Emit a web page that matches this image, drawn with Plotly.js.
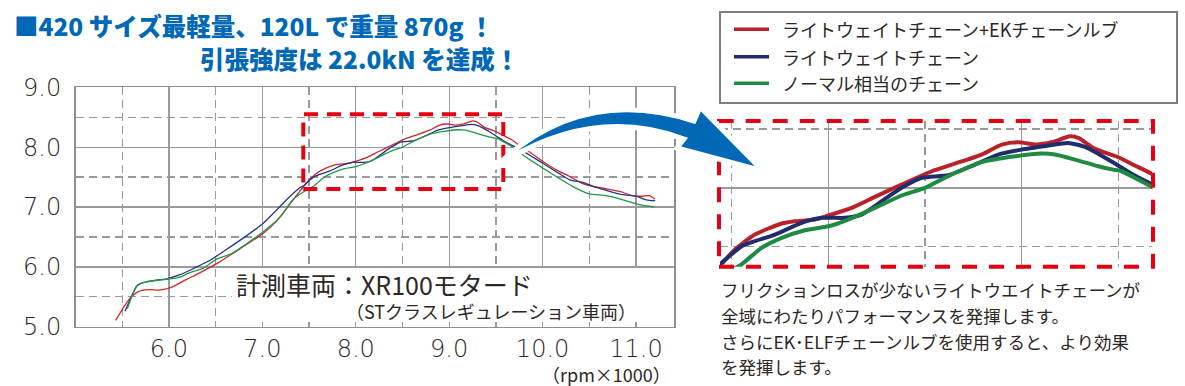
<!DOCTYPE html>
<html><head><meta charset="utf-8">
<script src="https://cdn.plot.ly/plotly-3.0.1.min.js"></script>
<style>html,body{margin:0;padding:0;background:#fff;}#chart{width:1185px;height:386px;}</style>
</head><body><div id="chart"></div>
<script>
// ---------- data ----------
const seriesNames = ['ライトウェイトチェーン+EKチェーンルブ', 'ライトウェイトチェーン', 'ノーマル相当のチェーン'];

const redX = [5.43, 5.53, 5.58, 5.655, 5.71, 5.80, 5.885, 5.975, 6.03, 6.19, 6.33, 6.53, 6.69, 7.0, 7.15, 7.29, 7.40, 7.445, 7.517, 7.62, 7.759, 7.827, 7.931, 8.0, 8.121, 8.241, 8.379, 8.535, 8.655, 8.793, 8.897, 8.983, 9.078, 9.155, 9.25, 9.293, 9.38, 9.50, 9.586, 9.673, 9.75, 9.853, 10.003, 10.146, 10.289, 10.43, 10.54, 10.68, 10.824, 10.966, 11.07, 11.145, 11.2];
const redY = [5.105, 5.36, 5.47, 5.57, 5.605, 5.62, 5.61, 5.63, 5.66, 5.79, 5.90, 6.07, 6.23, 6.55, 6.76, 7.04, 7.26, 7.348, 7.476, 7.603, 7.697, 7.716, 7.731, 7.765, 7.83, 7.923, 8.028, 8.141, 8.206, 8.283, 8.368, 8.387, 8.368, 8.387, 8.438, 8.425, 8.331, 8.26, 8.19, 8.12, 8.03, 7.927, 7.76, 7.62, 7.51, 7.39, 7.345, 7.305, 7.26, 7.19, 7.18, 7.19, 7.13];

const blueX = [5.53, 5.60, 5.655, 5.71, 5.83, 5.975, 6.12, 6.26, 6.44, 6.615, 6.795, 7.01, 7.26, 7.40, 7.445, 7.552, 7.724, 7.862, 7.966, 8.086, 8.172, 8.276, 8.379, 8.483, 8.62, 8.759, 8.879, 9.0, 9.138, 9.241, 9.328, 9.448, 9.569, 9.673, 9.826, 10.003, 10.146, 10.289, 10.43, 10.54, 10.68, 10.86, 11.0, 11.11, 11.205];
const blueY = [5.26, 5.51, 5.68, 5.73, 5.77, 5.80, 5.87, 5.97, 6.11, 6.29, 6.48, 6.73, 7.12, 7.32, 7.36, 7.504, 7.603, 7.703, 7.745, 7.745, 7.773, 7.886, 8.0, 8.085, 8.107, 8.198, 8.283, 8.325, 8.359, 8.382, 8.348, 8.24, 8.12, 8.03, 7.90, 7.73, 7.59, 7.455, 7.41, 7.345, 7.28, 7.205, 7.18, 7.12, 7.105];

const greenX = [5.555, 5.62, 5.67, 5.76, 5.90, 6.01, 6.12, 6.22, 6.37, 6.51, 6.67, 6.97, 7.19, 7.33, 7.47, 7.543, 7.655, 7.759, 7.879, 8.0, 8.103, 8.241, 8.379, 8.50, 8.62, 8.793, 8.966, 9.104, 9.172, 9.276, 9.397, 9.474, 9.517, 9.603, 9.673, 9.79, 10.003, 10.146, 10.32, 10.50, 10.68, 10.86, 11.04, 11.2];
const greenY = [5.30, 5.57, 5.705, 5.75, 5.78, 5.80, 5.83, 5.90, 5.98, 6.13, 6.22, 6.54, 6.83, 7.13, 7.28, 7.34, 7.49, 7.575, 7.64, 7.674, 7.731, 7.83, 7.935, 8.0, 8.099, 8.218, 8.268, 8.291, 8.283, 8.24, 8.184, 8.155, 8.141, 8.07, 8.008, 7.87, 7.65, 7.51, 7.345, 7.22, 7.19, 7.12, 7.04, 7.0];

const xTickVals = [6, 7, 8, 9, 10, 11];
const xTickText = ['6.0', '7.0', '8.0', '9.0', '10.0', '11.0'];
const yTickVals = [5, 6, 7, 8, 9];
const yTickText = ['5.0', '6.0', '7.0', '8.0', '9.0'];

const titleLine1 = '■420 サイズ最軽量、120L で重量 870g ！';
const titleLine2 = '引張強度は 22.0kN を達成！';
const vehicleLine1 = '計測車両：XR100モタード';
const vehicleLine2 = '（STクラスレギュレーション車両）';
const unitLabel = '（rpm×1000）';
const noteLines = [
  'フリクションロスが少ないライトウエイトチェーンが',
  '全域にわたりパフォーマンスを発揮します。',
  'さらにEK･ELFチェーンルブを使用すると、より効果',
  'を発揮します。'
];

// ---------- layout helpers ----------
const W = 1185, H = 386;
const fx = p => p / W;
const fy = p => 1 - p / H;
const toPaper = d => d.replace(/(-?\d+\.?\d*),(-?\d+\.?\d*)/g, (m, a, b) => fx(+a).toFixed(5) + ',' + fy(+b).toFixed(5));

const JP = '"Noto Sans CJK JP", "Noto Sans", sans-serif';
const NUM = '"DejaVu Sans", "Noto Sans", sans-serif';
const TXT = '#2e2725';

const mainColors = ['#d2262e', '#243583', '#22964a'];
const insetColors = ['#b8232b', '#1f2d6c', '#1f8a41'];
const xs = [redX, blueX, greenX], ys = [redY, blueY, greenY];

const traces = [];
for (let i = 0; i < 3; i++) {
  traces.push({x: xs[i], y: ys[i], xaxis: 'x', yaxis: 'y', mode: 'lines', name: seriesNames[i],
    line: {color: mainColors[i], width: 1.3, shape: 'spline', smoothing: 0.6}, hoverinfo: 'skip', showlegend: false});
}
for (let i = 0; i < 3; i++) {
  traces.push({x: xs[i], y: ys[i], xaxis: 'x2', yaxis: 'y2', mode: 'lines', name: seriesNames[i],
    line: {color: insetColors[i], width: 4, shape: 'spline', smoothing: 0.6}, hoverinfo: 'skip', showlegend: false});
}

const gridGray = '#9a9a9a';
const layout = {
  width: W, height: H, autosize: false,
  margin: {l: 0, r: 0, t: 0, b: 0},
  paper_bgcolor: '#ffffff', plot_bgcolor: 'rgba(0,0,0,0)',
  showlegend: false,
  xaxis: {
    domain: [fx(75.5), fx(674.3)], range: [5.0, 11.41], anchor: 'y',
    tickmode: 'array', tickvals: xTickVals, ticktext: xTickText, ticks: '',
    tickfont: {family: NUM, size: 24, color: TXT, weight: 200}, ticklabelstandoff: 0,
    showgrid: true, gridcolor: gridGray, gridwidth: 1.3, zeroline: false,
    showline: true, mirror: true, linecolor: '#8e8e8e', linewidth: 1.5,
    minor: {tickmode: 'linear', tick0: 5.5, dtick: 1, showgrid: true, gridcolor: gridGray, gridwidth: 1.3, griddash: '8px,5px', ticks: ''}
  },
  yaxis: {
    domain: [fy(326.7), fy(87.3)], range: [5.0, 9.0], anchor: 'x',
    tickmode: 'array', tickvals: yTickVals, ticktext: yTickText, ticks: '',
    tickfont: {family: NUM, size: 24, color: TXT, weight: 200}, ticklabelstandoff: 8,
    showgrid: true, gridcolor: gridGray, gridwidth: 1.3, zeroline: false,
    showline: true, mirror: true, linecolor: '#8e8e8e', linewidth: 1.5,
    minor: {tickmode: 'linear', tick0: 5.5, dtick: 1, showgrid: true, gridcolor: gridGray, gridwidth: 1.3, griddash: '8px,5px', ticks: ''}
  },
  xaxis2: {
    domain: [fx(720), fx(1152.3)], range: [7.4395, 9.676], anchor: 'y2',
    tickmode: 'array', tickvals: [8, 9], showticklabels: false, ticks: '',
    showgrid: true, gridcolor: gridGray, gridwidth: 1.3, zeroline: false, showline: false,
    minor: {tickmode: 'linear', tick0: 7.5, dtick: 1, showgrid: true, gridcolor: gridGray, gridwidth: 1.3, griddash: '8px,5px', ticks: ''}
  },
  yaxis2: {
    domain: [fy(266.7), fy(121)], range: [7.33, 8.568], anchor: 'x2',
    tickmode: 'array', tickvals: [8], showticklabels: false, ticks: '',
    showgrid: true, gridcolor: gridGray, gridwidth: 1.3, zeroline: false, showline: false,
    minor: {tickmode: 'linear', tick0: 7.5, dtick: 1, showgrid: true, gridcolor: gridGray, gridwidth: 1.3, griddash: '8px,5px', ticks: ''}
  },
  shapes: [],
  annotations: []
};

const rectPx = (x0, y0, x1, y1, extra) => Object.assign({type: 'rect', xref: 'paper', yref: 'paper',
  x0: fx(x0), x1: fx(x1), y0: fy(y1), y1: fy(y0), layer: 'above'}, extra);

// white panel behind vehicle note
layout.shapes.push(rectPx(232, 268, 672, 322, {fillcolor: '#ffffff', line: {width: 0}}));
// red dashed zoom box in main chart
layout.shapes.push(rectPx(303.3, 114.3, 503.3, 189, {line: {color: '#e60012', width: 4, dash: '14px,9px'}}));
// red dashed border around the inset
layout.shapes.push(rectPx(719, 121, 1153, 266.7, {line: {color: '#e60012', width: 4, dash: '15px,12px'}}));
// blue arrow
layout.shapes.push({type: 'path', xref: 'paper', yref: 'paper', layer: 'above',
  path: toPaper('M494,168 Q580,84 694,121 L700,107 L763,171 L677,148 L684,139 Q590,104 494,168 Z'),
  fillcolor: '#0068b7', line: {color: '#ffffff', width: 5}});
// legend box
layout.shapes.push(rectPx(720, 12, 1177, 103, {line: {color: '#7d7d7d', width: 2}}));
const legendYs = [29.3, 56.7, 83.3];
for (let i = 0; i < 3; i++) {
  layout.shapes.push({type: 'line', xref: 'paper', yref: 'paper', layer: 'above',
    x0: fx(734), x1: fx(769), y0: fy(legendYs[i]), y1: fy(legendYs[i]),
    line: {color: insetColors[i], width: 3.5}});
  layout.annotations.push({xref: 'paper', yref: 'paper', x: fx(781), y: fy(legendYs[i]), xanchor: 'left', yanchor: 'middle',
    text: seriesNames[i], showarrow: false, borderpad: 0, font: {family: JP, size: 18, color: TXT}});
}

const ann = (x, y, text, size, xanchor, extra) => Object.assign({xref: 'paper', yref: 'paper', x: fx(x), y: fy(y),
  xanchor: xanchor, yanchor: 'middle', text: text, showarrow: false, borderpad: 0,
  font: {family: JP, size: size, color: TXT}}, extra || {});

const titleFont = {family: JP, size: 24.5, color: '#0068b7', weight: 900};
layout.annotations.push(ann(13, 25, titleLine1, 24.5, 'left', {font: titleFont}));
layout.annotations.push(ann(520, 59, titleLine2, 24.5, 'right', {font: titleFont}));
layout.annotations.push(ann(235, 284, vehicleLine1, 25, 'left'));
layout.annotations.push(ann(345, 311, vehicleLine2, 18, 'left'));
layout.annotations.push(ann(672, 374, unitLabel, 18, 'right'));
const noteYs = [289.5, 315.5, 341, 366.5];
noteLines.forEach((t, i) => layout.annotations.push(ann(720, noteYs[i], t, 17.5, 'left')));

Plotly.newPlot('chart', traces, layout, {staticPlot: true, displayModeBar: false});
</script>
</body></html>
